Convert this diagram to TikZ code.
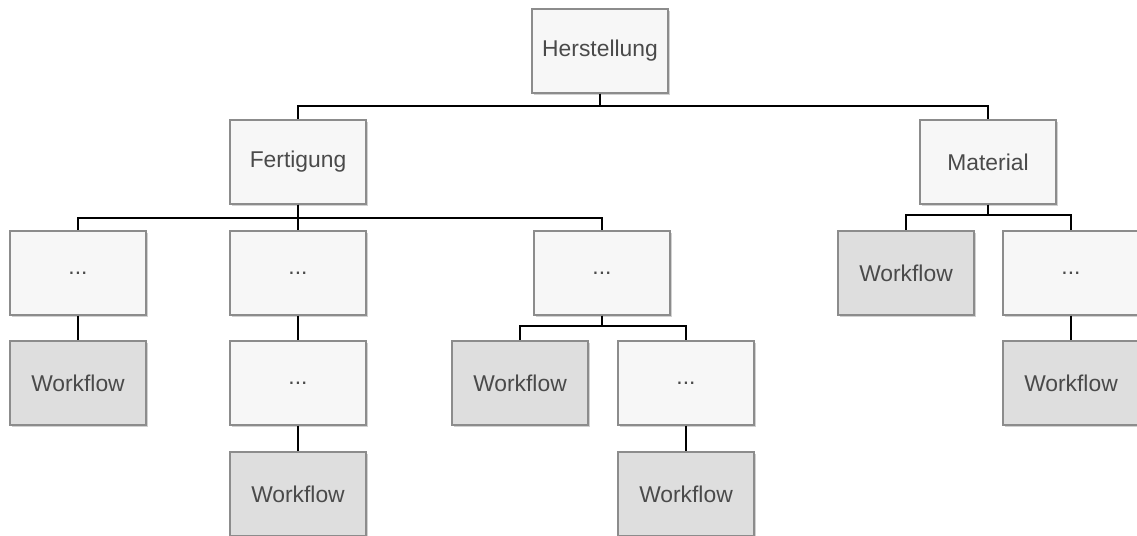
\documentclass[tikz,border=0pt]{standalone}
\usepackage{fontspec}
\setsansfont{Liberation Sans}
\usetikzlibrary{shadows}
\definecolor{boxline}{HTML}{8C8C8C}
\definecolor{boxtext}{HTML}{4A4A4A}
\definecolor{wfgray}{HTML}{DEDEDE}
\definecolor{lightfill}{HTML}{F7F7F7}
\begin{document}
\begin{tikzpicture}[
    x=0.02cm,y=-0.02cm,
    box/.style={draw=boxline,line width=0.8pt,fill=lightfill,text=boxtext,
      minimum width=2.72cm,minimum height=1.68cm,
      font=\sffamily\fontsize{13}{15}\selectfont,
      drop shadow={shadow xshift=1.2pt,shadow yshift=-1.2pt,fill=gray!45,opacity=0.8}},
    flow/.style={box,fill=wfgray},
    link/.style={line width=1.2pt}
]
\clip (0,0) rectangle (1137,535);
\useasboundingbox (0,0) rectangle (1137,535);
\node[box] (herst) at (600,51) {Herstellung};
\node[box] (fert) at (298,162) {Fertigung};
\node[box] (mat) at (988,162) {Material};

\node[box] (a1) at (78,273) {...};
\node[box] (a2) at (298,273) {...};
\node[box] (a3) at (602,273) {...};
\node[flow] (mw) at (906,273) {Workflow};
\node[box] (a4) at (1071,273) {...};

\node[flow] (w1) at (78,383) {Workflow};
\node[box] (a5) at (298,383) {...};
\node[flow] (w3) at (520,383) {Workflow};
\node[box] (a6) at (686,383) {...};
\node[flow] (w5) at (1071,383) {Workflow};

\node[flow] (w2) at (298,494) {Workflow};
\node[flow] (w4) at (686,494) {Workflow};

% tree links
\foreach \c in {fert,mat}
  \draw[link] (herst.south) -- ++(0,12) -| (\c.north);
\foreach \c in {a1,a2,a3}
  \draw[link] (fert.south) -- ++(0,13) -| (\c.north);
\foreach \c in {mw,a4}
  \draw[link] (mat.south) -- ++(0,10) -| (\c.north);
\foreach \c in {w3,a6}
  \draw[link] (a3.south) -- ++(0,10) -| (\c.north);
\draw[link] (a1) -- (w1);
\draw[link] (a2) -- (a5);
\draw[link] (a5) -- (w2);
\draw[link] (a6) -- (w4);
\draw[link] (a4) -- (w5);
\end{tikzpicture}
\end{document}
